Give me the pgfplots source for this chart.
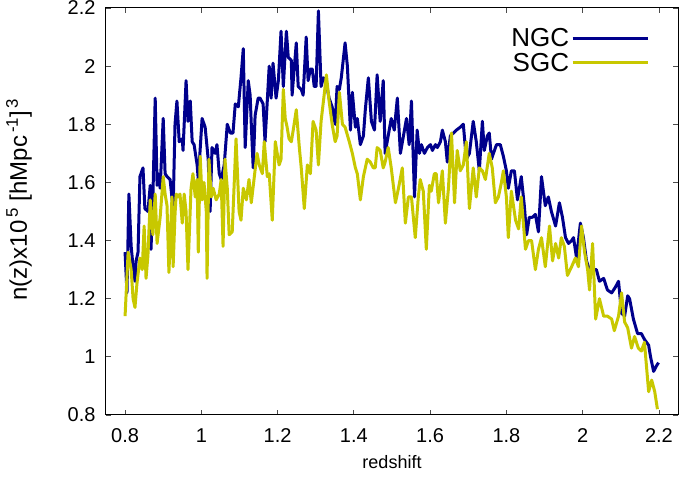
\documentclass[border=0pt]{standalone}
\usepackage{pgfplots}
\pgfplotsset{compat=1.18}
\usepackage{pgfplotstable}
\usepackage{fontspec}
\setmainfont{Liberation Sans}
\definecolor{ngc}{RGB}{0,0,140}
\definecolor{sgc}{RGB}{200,200,0}

\pgfplotstableread{
z n
0.800 1.36
0.805 1.22
0.810 1.56
0.816 1.38
0.821 1.31
0.826 1.26
0.829 1.33
0.834 1.36
0.839 1.62
0.847 1.65
0.852 1.51
0.860 1.50
0.866 1.59
0.868 1.37
0.873 1.55
0.879 1.89
0.884 1.59
0.887 1.63
0.892 1.58
0.900 1.82
0.905 1.63
0.910 1.62
0.918 1.61
0.926 1.51
0.931 1.80
0.936 1.88
0.942 1.74
0.950 1.75
0.952 1.71
0.960 1.95
0.965 1.81
0.971 1.88
0.976 1.74
0.981 1.73
0.989 1.66
0.992 1.61
1.002 1.82
1.010 1.79
1.018 1.68
1.023 1.50
1.028 1.72
1.036 1.70
1.041 1.73
1.047 1.63
1.052 1.61
1.060 1.66
1.068 1.80
1.076 1.77
1.083 1.77
1.089 1.87
1.097 1.86
1.104 1.96
1.110 2.06
1.115 1.72
1.123 1.95
1.128 1.90
1.131 1.80
1.136 1.65
1.141 1.83
1.149 1.89
1.154 1.89
1.162 1.87
1.167 1.74
1.178 2.00
1.183 1.89
1.188 2.01
1.196 1.89
1.202 1.95
1.209 2.12
1.215 1.93
1.223 2.12
1.228 2.03
1.236 2.02
1.238 1.90
1.249 2.08
1.254 1.93
1.262 1.92
1.267 1.90
1.275 2.10
1.280 1.95
1.286 1.99
1.291 1.99
1.296 1.93
1.301 1.93
1.307 2.19
1.314 1.93
1.320 1.96
1.328 1.94
1.335 1.89
1.343 1.86
1.351 1.80
1.356 1.93
1.362 1.92
1.367 1.96
1.377 2.08
1.383 2.00
1.391 1.78
1.396 1.91
1.404 1.79
1.409 1.82
1.417 1.73
1.425 1.76
1.430 1.85
1.438 1.96
1.446 1.81
1.454 1.78
1.461 1.97
1.469 1.81
1.477 1.95
1.482 1.70
1.490 1.76
1.498 1.82
1.506 1.78
1.514 1.89
1.522 1.70
1.530 1.76
1.538 1.82
1.545 1.73
1.551 1.88
1.559 1.55
1.566 1.78
1.572 1.70
1.577 1.73
1.585 1.70
1.593 1.72
1.601 1.73
1.606 1.71
1.614 1.73
1.619 1.72
1.627 1.74
1.632 1.78
1.640 1.74
1.645 1.67
1.653 1.76
1.661 1.77
1.669 1.78
1.679 1.79
1.687 1.80
1.695 1.68
1.703 1.70
1.713 1.81
1.721 1.74
1.729 1.64
1.737 1.81
1.742 1.71
1.750 1.76
1.755 1.77
1.761 1.68
1.766 1.70
1.774 1.73
1.784 1.73
1.792 1.69
1.800 1.64
1.805 1.58
1.813 1.64
1.821 1.64
1.829 1.54
1.839 1.62
1.847 1.52
1.853 1.42
1.860 1.48
1.868 1.48
1.876 1.49
1.884 1.43
1.892 1.62
1.902 1.52
1.910 1.55
1.918 1.50
1.929 1.45
1.939 1.53
1.947 1.48
1.955 1.41
1.963 1.39
1.971 1.40
1.976 1.41
1.984 1.34
1.994 1.46
2.002 1.41
2.010 1.33
2.015 1.31
2.026 1.30
2.036 1.30
2.044 1.26
2.055 1.27
2.065 1.23
2.076 1.22
2.086 1.24
2.094 1.26
2.102 1.15
2.110 1.14
2.118 1.21
2.123 1.20
2.133 1.13
2.144 1.08
2.154 1.08
2.162 1.06
2.173 1.04
2.178 1.00
2.186 0.95
2.194 0.97
2.199 0.98
}\ngctable

\pgfplotstableread{
z n
0.800 1.14
0.808 1.36
0.816 1.30
0.821 1.20
0.826 1.17
0.831 1.25
0.839 1.34
0.845 1.30
0.850 1.45
0.855 1.27
0.860 1.35
0.866 1.54
0.873 1.42
0.879 1.56
0.884 1.39
0.892 1.48
0.900 1.62
0.905 1.56
0.910 1.52
0.915 1.29
0.923 1.55
0.926 1.31
0.931 1.49
0.934 1.56
0.939 1.55
0.944 1.56
0.950 1.46
0.955 1.56
0.960 1.50
0.965 1.30
0.973 1.58
0.978 1.63
0.984 1.55
0.989 1.61
0.992 1.36
0.997 1.69
1.002 1.54
1.007 1.60
1.013 1.50
1.015 1.27
1.020 1.68
1.026 1.55
1.031 1.58
1.039 1.54
1.047 1.56
1.052 1.61
1.057 1.38
1.062 1.68
1.068 1.58
1.073 1.42
1.081 1.43
1.091 1.75
1.099 1.50
1.104 1.47
1.110 1.58
1.118 1.54
1.125 1.61
1.131 1.53
1.139 1.62
1.146 1.70
1.152 1.66
1.160 1.63
1.165 1.74
1.173 1.62
1.178 1.63
1.186 1.47
1.194 1.74
1.199 1.70
1.204 1.66
1.209 1.68
1.215 1.92
1.220 1.82
1.225 1.79
1.230 1.75
1.236 1.74
1.241 1.78
1.249 1.85
1.257 1.72
1.262 1.65
1.270 1.51
1.278 1.66
1.286 1.63
1.293 1.81
1.301 1.78
1.307 1.66
1.314 1.81
1.322 1.90
1.328 1.97
1.335 1.88
1.343 1.80
1.351 1.74
1.356 1.76
1.362 1.91
1.370 1.80
1.377 1.79
1.388 1.74
1.396 1.70
1.404 1.65
1.409 1.63
1.417 1.54
1.425 1.62
1.435 1.68
1.443 1.67
1.451 1.65
1.456 1.65
1.461 1.72
1.469 1.71
1.477 1.65
1.482 1.67
1.490 1.72
1.498 1.65
1.509 1.53
1.517 1.58
1.527 1.65
1.535 1.46
1.543 1.55
1.551 1.55
1.561 1.41
1.569 1.55
1.574 1.61
1.582 1.57
1.590 1.37
1.598 1.59
1.603 1.57
1.611 1.63
1.616 1.63
1.622 1.53
1.632 1.64
1.640 1.46
1.648 1.58
1.656 1.77
1.664 1.53
1.671 1.71
1.679 1.64
1.687 1.66
1.695 1.74
1.703 1.51
1.713 1.65
1.721 1.55
1.729 1.65
1.737 1.64
1.745 1.61
1.755 1.70
1.763 1.65
1.771 1.53
1.779 1.55
1.787 1.60
1.792 1.64
1.800 1.55
1.805 1.41
1.813 1.57
1.824 1.47
1.832 1.44
1.839 1.55
1.850 1.37
1.858 1.40
1.866 1.40
1.876 1.30
1.884 1.37
1.892 1.41
1.902 1.31
1.913 1.45
1.921 1.33
1.929 1.39
1.937 1.34
1.944 1.41
1.952 1.38
1.960 1.28
1.971 1.31
1.981 1.34
1.989 1.31
1.997 1.45
2.005 1.36
2.013 1.30
2.018 1.23
2.026 1.39
2.034 1.13
2.044 1.20
2.055 1.14
2.065 1.14
2.076 1.13
2.083 1.09
2.094 1.14
2.102 1.22
2.110 1.12
2.118 1.10
2.128 1.03
2.136 1.07
2.146 1.03
2.154 1.02
2.162 1.05
2.173 0.88
2.181 0.92
2.189 0.88
2.196 0.82
}\sgctable

\begin{document}
\begin{tikzpicture}
\begin{axis}[
  name=ax,
  scale only axis,
  width=572pt, height=407pt,
  xmin=0.75, xmax=2.25, ymin=0.8, ymax=2.2,
  xtick={0.8,1,1.2,1.4,1.6,1.8,2,2.2},
  ytick={0.8,1,1.2,1.4,1.6,1.8,2,2.2},
  xticklabels={0.8,1,1.2,1.4,1.6,1.8,2,2.2},
  yticklabels={0.8,1,1.2,1.4,1.6,1.8,2,2.2},
  tick align=inside, tick pos=both,
  major tick length=5pt,
  tick style={line width=0.8pt, color=black!70},
  axis line style={line width=1pt},
  ticklabel style={font=\fontsize{20}{23}\selectfont},
  xticklabel style={yshift=-10pt},
  yticklabel style={xshift=-7pt},
  xlabel={redshift},
  ylabel={n(z)x10\textsuperscript{\,5} [hMpc\textsuperscript{\,-1}]\textsuperscript{\,3}},
  every axis x label/.style={at={(axis description cs:0.5,-0.115)}, anchor=center, font=\fontsize{18}{21}\selectfont},
  every axis y label/.style={at={(axis description cs:-0.152,0.53)}, rotate=90, anchor=center, font=\fontsize{24}{27}\selectfont},
  legend style={draw=none, fill=none, at={(0.955,0.96)}, anchor=north east,
    font=\fontsize{26}{30}\selectfont, row sep=1pt},
  legend cell align=right,
  legend plot pos=right,
  legend image code/.code={\draw[#1] (0pt,0pt) -- (75pt,0pt);},
]
\addplot[ngc, line width=3pt, line join=round] table[x=z, y=n] {\ngctable};
\addlegendentry{NGC}
\addplot[sgc, line width=3pt, line join=round] table[x=z, y=n] {\sgctable};
\addlegendentry{SGC}
\end{axis}
\pgfresetboundingbox
\path[use as bounding box] ([xshift=-106pt,yshift=-63pt]ax.south west) rectangle ([xshift=1pt,yshift=8pt]ax.north east);
\end{tikzpicture}
\end{document}
